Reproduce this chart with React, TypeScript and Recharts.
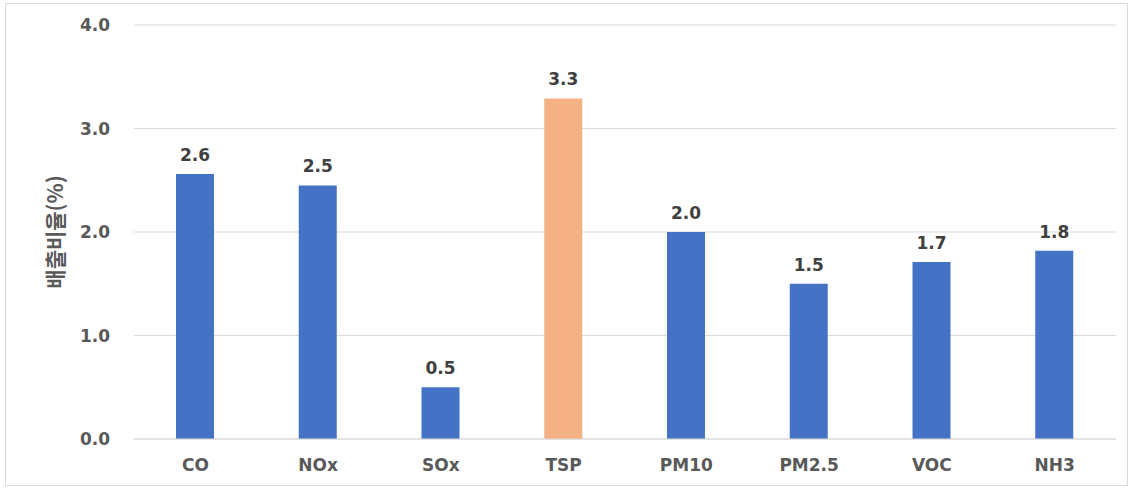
import { BarChart, Bar, XAxis, YAxis, CartesianGrid, LabelList, Cell, Label } from "recharts";

const categories = ["CO", "NOx", "SOx", "TSP", "PM10", "PM2.5", "VOC", "NH3"];
const ratios = [2.56, 2.45, 0.5, 3.29, 2.0, 1.5, 1.71, 1.82];
const barColors = ["#4472C4", "#4472C4", "#4472C4", "#F4B183", "#4472C4", "#4472C4", "#4472C4", "#4472C4"];
const yTicks = [0, 1, 2, 3, 4];

const chartData = categories.map((name, i) => ({ name, value: ratios[i] }));

const tickFont = { fontFamily: "DejaVu Sans", fontWeight: 700, fontSize: 17, fill: "#595959" };

const YTitle = (props: any) => {
  const vb = props.viewBox || {};
  const cx = 54;
  const cy = vb.y + vb.height / 2;
  return (
    <text
      x={cx}
      y={cy}
      transform={`rotate(-90 ${cx} ${cy})`}
      textAnchor="middle"
      dominantBaseline="central"
      style={{ fontFamily: "Noto Sans CJK KR", fontWeight: 700, fontSize: 21, fill: "#595959" }}
    >
      배출비율(%)
    </text>
  );
};

const App = () => {
  return (
    <div style={{ position: "absolute", left: 0, top: 0, width: 1131, height: 488, background: "#fff" }}>
      <div
        style={{
          position: "absolute",
          left: 5,
          top: 3,
          width: 1121,
          height: 481,
          border: "1px solid #D9D9D9",
        }}
      />
      <BarChart
        width={1131}
        height={488}
        data={chartData}
        margin={{ top: 25, right: 15, bottom: 19, left: 0 }}
        style={{ position: "absolute", left: 0, top: 0 }}
      >
        <CartesianGrid vertical={false} stroke="#D9D9D9" />
        <XAxis
          dataKey="name"
          height={30}
          axisLine={{ stroke: "#D9D9D9" }}
          tickLine={false}
          tick={tickFont}
          tickMargin={14}
        />
        <YAxis
          width={134}
          domain={[0, 4]}
          ticks={yTicks}
          axisLine={false}
          tickLine={false}
          tick={tickFont}
          tickMargin={18}
          tickFormatter={(v: number) => v.toFixed(1)}
        >
          <Label content={<YTitle />} />
        </YAxis>
        <Bar dataKey="value" barSize={38} isAnimationActive={false}>
          {chartData.map((d, i) => (
            <Cell key={d.name} fill={barColors[i]} />
          ))}
          <LabelList
            dataKey="value"
            position="top"
            offset={13}
            formatter={(v: any) => Number(v).toFixed(1)}
            style={{ fontFamily: "DejaVu Sans", fontWeight: 700, fontSize: 17, fill: "#404040" }}
          />
        </Bar>
      </BarChart>
    </div>
  );
};

export default App;
